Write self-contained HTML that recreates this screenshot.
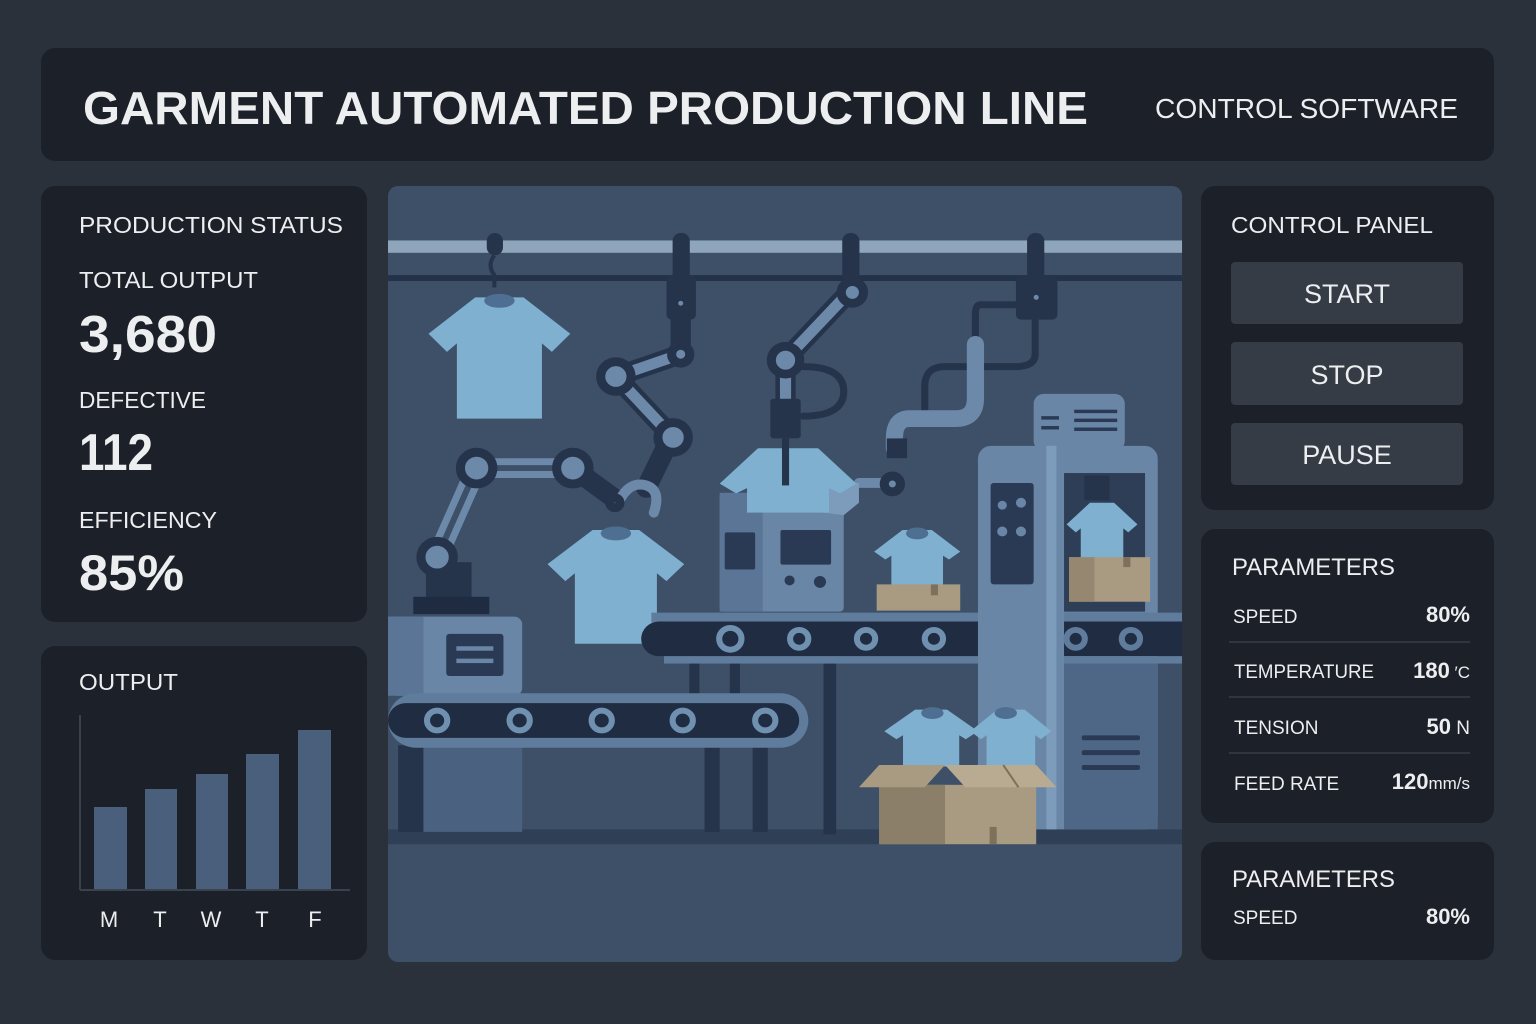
<!DOCTYPE html>
<html><head><meta charset="utf-8"><style>
html,body{margin:0;padding:0;background:#2b313b;}
svg{display:block}
text{font-family:"Liberation Sans",sans-serif;fill:#eceef0;}
</style></head><body>
<svg width="1536" height="1024" viewBox="0 0 1536 1024" xmlns="http://www.w3.org/2000/svg">
<rect width="1536" height="1024" fill="#2b313b"/>
<!-- header -->
<rect x="41" y="48" width="1453" height="113" rx="14" fill="#1c2028"/>
<text x="83" y="124" font-size="46" font-weight="bold" textLength="1005" lengthAdjust="spacingAndGlyphs">GARMENT AUTOMATED PRODUCTION LINE</text>
<text x="1155" y="118" font-size="28" textLength="303" lengthAdjust="spacingAndGlyphs">CONTROL SOFTWARE</text>

<!-- left status panel -->
<rect x="41" y="186" width="326" height="436" rx="14" fill="#1c2028"/>
<text x="79" y="233" font-size="23" textLength="264" lengthAdjust="spacingAndGlyphs">PRODUCTION STATUS</text>
<text x="79" y="288" font-size="23" textLength="179" lengthAdjust="spacingAndGlyphs">TOTAL OUTPUT</text>
<text x="79" y="352" font-size="52" font-weight="bold" textLength="138" lengthAdjust="spacingAndGlyphs">3,680</text>
<text x="79" y="408" font-size="23" textLength="127" lengthAdjust="spacingAndGlyphs">DEFECTIVE</text>
<text x="79" y="470" font-size="52" font-weight="bold" textLength="74" lengthAdjust="spacingAndGlyphs">112</text>
<text x="79" y="528" font-size="23" textLength="138" lengthAdjust="spacingAndGlyphs">EFFICIENCY</text>
<text x="79" y="590" font-size="50" font-weight="bold" textLength="105" lengthAdjust="spacingAndGlyphs">85%</text>

<!-- output chart panel -->
<rect x="41" y="646" width="326" height="314" rx="14" fill="#1c2028"/>
<text x="79" y="690" font-size="23" textLength="99" lengthAdjust="spacingAndGlyphs">OUTPUT</text>
<line x1="80" y1="715" x2="80" y2="890" stroke="#3a4250" stroke-width="2"/>
<line x1="80" y1="890" x2="350" y2="890" stroke="#3a4250" stroke-width="2"/>
<g fill="#4a5f7c">
<rect x="94" y="807" width="33" height="82"/>
<rect x="145" y="789" width="32" height="100"/>
<rect x="196" y="774" width="32" height="115"/>
<rect x="246" y="754" width="33" height="135"/>
<rect x="298" y="730" width="33" height="159"/>
</g>
<g font-size="22" text-anchor="middle">
<text x="109" y="927">M</text><text x="160" y="927">T</text><text x="211" y="927">W</text><text x="262" y="927">T</text><text x="315" y="927">F</text>
</g>

<!-- control panel -->
<rect x="1201" y="186" width="293" height="324" rx="14" fill="#1c2028"/>
<text x="1231" y="233" font-size="23" textLength="202" lengthAdjust="spacingAndGlyphs">CONTROL PANEL</text>
<rect x="1231" y="262" width="232" height="62" rx="4" fill="#353c46"/>
<rect x="1231" y="342" width="232" height="63" rx="4" fill="#353c46"/>
<rect x="1231" y="423" width="232" height="62" rx="4" fill="#353c46"/>
<g font-size="27" text-anchor="middle">
<text x="1347" y="303">START</text><text x="1347" y="384">STOP</text><text x="1347" y="464">PAUSE</text>
</g>

<!-- parameters -->
<rect x="1201" y="529" width="293" height="294" rx="14" fill="#1c2028"/>
<text x="1232" y="575" font-size="24" textLength="163" lengthAdjust="spacingAndGlyphs">PARAMETERS</text>
<g stroke="#30363f" stroke-width="2">
<line x1="1229" y1="642" x2="1470" y2="642"/><line x1="1229" y1="697" x2="1470" y2="697"/><line x1="1229" y1="753" x2="1470" y2="753"/>
</g>
<g font-size="19">
<text x="1233" y="623">SPEED</text>
<text x="1234" y="678" textLength="140" lengthAdjust="spacingAndGlyphs">TEMPERATURE</text>
<text x="1234" y="734">TENSION</text>
<text x="1234" y="790">FEED RATE</text>
</g>
<g font-size="22" text-anchor="end" font-weight="bold">
<text x="1470" y="622">80%</text>
<text x="1470" y="678"><tspan>180</tspan><tspan font-size="17" font-weight="normal"> ′C</tspan></text>
<text x="1470" y="734"><tspan>50</tspan><tspan font-size="19" font-weight="normal"> N</tspan></text>
<text x="1470" y="789"><tspan>120</tspan><tspan font-size="17" font-weight="normal">mm/s</tspan></text>
</g>

<rect x="1201" y="842" width="293" height="118" rx="14" fill="#1c2028"/>
<text x="1232" y="887" font-size="24" textLength="163" lengthAdjust="spacingAndGlyphs">PARAMETERS</text>
<text x="1233" y="924" font-size="19">SPEED</text>
<text x="1470" y="924" font-size="22" font-weight="bold" text-anchor="end">80%</text>

<!-- illustration -->
<g transform="translate(388,186) scale(0.5064,0.4949)">
<rect width="1568" height="1568" rx="20" fill="#3d5068"/>
<rect x="0" y="1300" width="1568" height="30" fill="#2f3f56"/>
<rect x="0" y="110" width="1568" height="25" fill="#8ea5bc"/>
<rect x="0" y="180" width="1568" height="12" fill="#243249"/>
<g fill="#26344b">
<rect x="195" y="95" width="32" height="45" rx="16"/>
<rect x="562" y="95" width="34" height="100" rx="16"/>
<rect x="897" y="95" width="34" height="100" rx="16"/>
<rect x="1262" y="95" width="34" height="100" rx="16"/>
<rect x="550" y="180" width="58" height="90" rx="10"/>
<rect x="1240" y="180" width="82" height="90" rx="10"/>
</g>
<path d="M210 140 q-15 20 0 40 l0 25" stroke="#26344b" stroke-width="8" fill="none"/>
<g stroke-linecap="round" fill="none">
<path d="M578 240 L578 340 L450 385 L560 505 L510 610" stroke="#26344b" stroke-width="40"/>
<path d="M578 340 L450 385 L560 505" stroke="#6c89a9" stroke-width="22"/>
<path d="M910 215 L785 350 L785 480" stroke="#26344b" stroke-width="40"/>
<path d="M910 215 L785 350 L785 440" stroke="#6c89a9" stroke-width="22"/>
<path d="M820 365 q80 0 80 50 q0 50 -80 50" stroke="#26344b" stroke-width="14"/>
<path d="M1278 270 L1278 340 q0 25 -40 25 L1100 365 q-40 0 -40 40 L1060 450" stroke="#26344b" stroke-width="14"/>
<path d="M1240 240 L1170 240 q-10 0 -10 20 L1160 330" stroke="#26344b" stroke-width="14"/>
<path d="M1160 320 L1160 430 q0 40 -40 40 L1030 470 q-30 0 -30 40 L1000 530" stroke="#6c89a9" stroke-width="34"/>
<path d="M1000 600 L930 600" stroke="#6c89a9" stroke-width="20"/>
<path d="M97 750 L175 570 L365 570" stroke="#6c89a9" stroke-width="40"/>
<path d="M97 750 L175 570 L365 570" stroke="#3d5068" stroke-width="12"/>
<path d="M365 570 L445 630" stroke="#26344b" stroke-width="40"/>
<path d="M455 640 q20 -45 55 -35 q30 10 15 55" stroke="#6c89a9" stroke-width="20"/>
</g>
<rect x="75" y="760" width="90" height="80" fill="#26344b"/>
<rect x="50" y="830" width="150" height="35" fill="#1f2b40"/>
<rect x="755" y="430" width="60" height="80" rx="6" fill="#26344b"/>
<rect x="985" y="510" width="40" height="40" fill="#26344b"/>
<g fill="#6c89a9" stroke="#26344b" stroke-width="18">
<circle cx="97" cy="750" r="32"/><circle cx="175" cy="570" r="32"/><circle cx="365" cy="570" r="32"/>
<circle cx="450" cy="385" r="30"/><circle cx="563" cy="508" r="30"/><circle cx="578" cy="237" r="14"/>
<circle cx="578" cy="340" r="18"/><circle cx="785" cy="352" r="28"/><circle cx="917" cy="215" r="22"/>
<circle cx="1280" cy="225" r="14"/><circle cx="996" cy="602" r="16"/><circle cx="448" cy="640" r="10"/>
</g>
<rect x="0" y="870" width="265" height="160" rx="16" fill="#6a86a6"/>
<rect x="0" y="870" width="70" height="160" fill="#5a7595"/>
<rect x="115" y="905" width="113" height="85" rx="6" fill="#2a3a55"/>
<rect x="135" y="930" width="73" height="9" fill="#6a86a6"/><rect x="135" y="955" width="73" height="9" fill="#6a86a6"/>
<g fill="#26344b">
<rect x="20" y="1130" width="50" height="175"/><rect x="625" y="1130" width="30" height="175"/><rect x="720" y="1130" width="30" height="175"/>
<rect x="595" y="960" width="20" height="70"/><rect x="675" y="960" width="20" height="70"/>
<rect x="860" y="960" width="25" height="350"/><rect x="1165" y="960" width="25" height="90"/>
</g>
<rect x="70" y="1130" width="195" height="175" fill="#4a6180"/>
<rect x="0" y="1025" width="830" height="110" rx="55" fill="#5f7c9c"/>
<rect x="0" y="1045" width="812" height="70" rx="35" fill="#1f2c42"/>
<g fill="#1f2c42" stroke="#7090b0" stroke-width="12">
<circle cx="97" cy="1080" r="20"/><circle cx="260" cy="1080" r="20"/><circle cx="422" cy="1080" r="20"/><circle cx="582" cy="1080" r="20"/><circle cx="745" cy="1080" r="20"/>
</g>
<rect x="655" y="620" width="245" height="240" rx="8" fill="#6a86a6"/>
<rect x="655" y="620" width="85" height="240" fill="#5a7595"/>
<rect x="665" y="700" width="60" height="75" rx="4" fill="#2a3a55"/>
<rect x="775" y="695" width="100" height="70" rx="4" fill="#2a3a55"/>
<circle cx="793" cy="797" r="10" fill="#2a3a55"/><circle cx="853" cy="800" r="12" fill="#2a3a55"/>
<path d="M860 600 L930 600 L930 640 L900 665 L860 660Z" fill="#7d9bbb"/>
<g fill="#7fb0d0">
<path d="M33 0 L67 0 L100 30 L87 45 L80 38 L80 100 L20 100 L20 38 L13 45 L0 30Z" transform="translate(80,225) scale(2.8,2.45)"/>
<path d="M33 0 L67 0 L100 30 L87 45 L80 38 L80 100 L20 100 L20 38 L13 45 L0 30Z" transform="translate(315,695) scale(2.7,2.3)"/>
<path d="M28 0 L72 0 L100 55 L88 70 L80 62 L80 100 L20 100 L20 62 L12 70 L0 55Z" transform="translate(655,530) scale(2.7,1.3)"/>
<path d="M33 0 L67 0 L100 38 L87 52 L80 45 L80 100 L20 100 L20 45 L13 52 L0 38Z" transform="translate(960,695) scale(1.7,1.15)"/>
</g>
<g fill="#4f6f92">
<ellipse cx="220" cy="232" rx="30" ry="14"/><ellipse cx="450" cy="702" rx="30" ry="14"/><ellipse cx="1045" cy="702" rx="22" ry="12"/>
</g>
<rect x="778" y="510" width="14" height="95" fill="#26344b"/>
<rect x="520" y="862" width="745" height="20" fill="#5f7c9c"/>
<rect x="500" y="880" width="785" height="70" rx="35" fill="#1f2c42"/>
<rect x="545" y="950" width="715" height="15" fill="#5f7c9c"/>
<g fill="#1f2c42" stroke="#7090b0" stroke-width="12">
<circle cx="676" cy="915" r="22"/><circle cx="812" cy="915" r="18"/><circle cx="944" cy="915" r="18"/><circle cx="1078" cy="915" r="18"/><circle cx="1213" cy="915" r="20"/>
</g>
<rect x="965" y="805" width="165" height="53" fill="#a99b82"/>
<rect x="1072" y="805" width="14" height="22" fill="#7e715c"/>
<rect x="1275" y="420" width="180" height="115" rx="20" fill="#6a86a6"/>
<g fill="#2a3a55"><rect x="1355" y="452" width="85" height="7"/><rect x="1355" y="470" width="85" height="7"/><rect x="1355" y="488" width="85" height="7"/><rect x="1290" y="465" width="35" height="7"/><rect x="1290" y="485" width="35" height="7"/></g>
<rect x="1165" y="525" width="355" height="775" rx="26" fill="#6a86a6"/>
<rect x="1300" y="525" width="20" height="775" fill="#7d9bbb"/>
<rect x="1190" y="600" width="85" height="205" rx="6" fill="#2a3a55"/>
<g fill="#6a86a6"><circle cx="1213" cy="645" r="9"/><circle cx="1250" cy="640" r="10"/><circle cx="1213" cy="698" r="10"/><circle cx="1250" cy="698" r="10"/></g>
<rect x="1335" y="580" width="160" height="280" fill="#2e3e56"/>
<rect x="1335" y="960" width="185" height="340" fill="#4e6787"/>
<g fill="#2a3a55"><rect x="1370" y="1110" width="115" height="10" rx="4"/><rect x="1370" y="1140" width="115" height="10" rx="4"/><rect x="1370" y="1170" width="115" height="10" rx="4"/></g>
<rect x="1375" y="585" width="50" height="50" fill="#26344b"/>
<path d="M33 0 L67 0 L100 38 L87 52 L80 45 L80 100 L20 100 L20 45 L13 52 L0 38Z" transform="translate(1340,640) scale(1.4,1.15)" fill="#7fb0d0"/>
<rect x="1345" y="750" width="160" height="90" fill="#a99b82"/>
<rect x="1345" y="750" width="50" height="90" fill="#968870"/>
<rect x="1452" y="750" width="14" height="20" fill="#7e715c"/>
<rect x="1335" y="862" width="233" height="20" fill="#5f7c9c"/>
<rect x="1335" y="880" width="233" height="70" fill="#1f2c42"/>
<rect x="1335" y="950" width="233" height="15" fill="#5f7c9c"/>
<g fill="#1f2c42" stroke="#5f7c9c" stroke-width="12"><circle cx="1358" cy="915" r="18"/><circle cx="1467" cy="915" r="18"/></g>
<!-- bottom shirts drawn after machine -->
<g fill="#7fb0d0">
<path d="M33 0 L67 0 L100 38 L87 52 L80 45 L80 100 L20 100 L20 45 L13 52 L0 38Z" transform="translate(980,1058) scale(1.85,1.15)"/>
<path d="M33 0 L67 0 L100 38 L87 52 L80 45 L80 100 L20 100 L20 45 L13 52 L0 38Z" transform="translate(1150,1058) scale(1.6,1.15)"/>
</g>
<g fill="#4f6f92"><ellipse cx="1075" cy="1065" rx="22" ry="12"/><ellipse cx="1220" cy="1065" rx="22" ry="12"/></g>
<rect x="970" y="1210" width="310" height="120" fill="#a99b82"/>
<rect x="970" y="1210" width="130" height="120" fill="#8c7f69"/>
<path d="M930 1215 L970 1170 L1100 1170 L1060 1215Z" fill="#a99b82"/>
<path d="M1100 1170 L1280 1170 L1320 1215 L1140 1215Z" fill="#b8ab92"/>
<path d="M1215 1170 L1245 1215" stroke="#7e715c" stroke-width="4"/>
<rect x="1188" y="1295" width="14" height="35" fill="#7e715c"/>
</g>
</svg>
</body></html>
